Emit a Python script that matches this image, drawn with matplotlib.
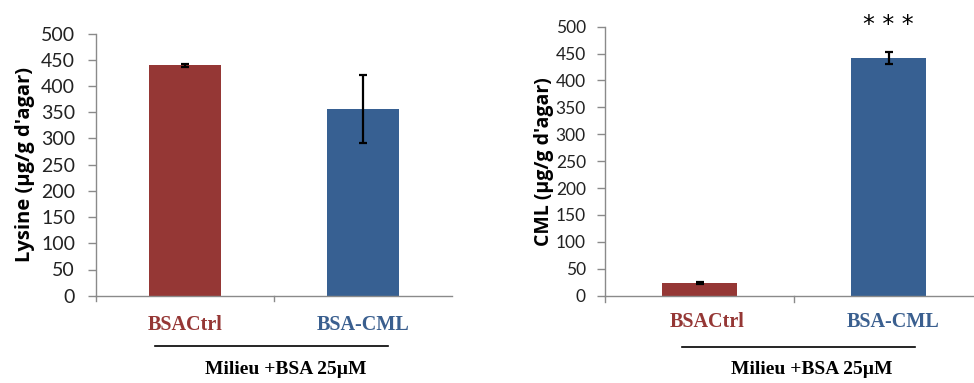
import matplotlib
matplotlib.use("Agg")
import matplotlib.pyplot as plt
from matplotlib.lines import Line2D

categories = ["BSACtrl", "BSA-CML"]
lysine_values = [440, 357]
lysine_err = [3, 65]
cml_values = [24, 442]
cml_err = [2, 11]
yticks = [0, 50, 100, 150, 200, 250, 300, 350, 400, 450, 500]
group_label = "Milieu +BSA 25µM"
bar_colors = ["#953735", "#376092"]
label_colors = ["#953735", "#3a5f8f"]

W, H = 974, 383
fig = plt.figure(figsize=(W / 100, H / 100), dpi=100)

def px(x0, x1, ytop, ybot):
    return [x0 / W, 1 - ybot / H, (x1 - x0) / W, (ybot - ytop) / H]

def draw(ax, values, errs, ylabel, tick_size, label_size, pad):
    x = list(range(len(categories)))
    ax.bar(x, values, width=0.4, color=bar_colors, zorder=2)
    ax.errorbar(x, values, yerr=errs, fmt="none", ecolor="black",
                elinewidth=1.6, capsize=3, capthick=1.6, zorder=3)
    ax.set_xlim(-0.5, len(categories) - 0.5)
    ax.set_ylim(0, 500)
    ax.set_yticks(yticks)
    ax.set_yticklabels([str(t) for t in yticks], fontfamily="Lato",
                       fontsize=tick_size, color="#222222")
    ax.set_xticks([])
    for s in ["top", "right"]:
        ax.spines[s].set_visible(False)
    for s in ["left", "bottom"]:
        ax.spines[s].set_color("#8a8a8a")
        ax.spines[s].set_linewidth(1.0)
    ax.tick_params(axis="y", direction="out", length=6, width=1.0,
                   color="#8a8a8a", pad=pad)
    for b in [-0.5, 0.5]:
        ax.plot([b, b], [0, -0.022], transform=ax.get_xaxis_transform(),
                color="#8a8a8a", lw=1.0, clip_on=False)
    ax.set_ylabel(ylabel, fontfamily="Open Sans", fontweight="bold",
                  fontsize=label_size, color="black")

# Left chart
ax1 = fig.add_axes(px(96, 452, 33.7, 295.7))
draw(ax1, lysine_values, lysine_err, "Lysine (µg/g d'agar)", 14, 14.5, 9)
ax1.yaxis.set_label_coords(-0.2 + 10 / 356, 0.5)

# Right chart
ax2 = fig.add_axes(px(605.3, 983, 26.7, 295.7))
draw(ax2, cml_values, cml_err, "CML (µg/g d'agar)", 12.5, 14, 8)
ax2.yaxis.set_label_coords(-0.165 + 11 / 378, 0.5)
ax2.text(1, 480, "* * *", ha="center", va="bottom", fontsize=17,
         fontfamily="DejaVu Sans", color="black", clip_on=False)

def ftext(x, y, s, color, size):
    fig.text(x / W, 1 - y / H, s, ha="center", va="center", color=color,
             fontfamily="Liberation Serif", fontweight="bold", fontsize=size)

def fline(x0, x1, y):
    fig.add_artist(Line2D([x0 / W, x1 / W], [1 - y / H, 1 - y / H],
                          color="black", lw=1.2))

# left
ftext(185, 325, categories[0], label_colors[0], 14.5)
ftext(363, 325, categories[1], label_colors[1], 14.5)
fline(155, 388, 346)
ftext(286, 370, group_label, "black", 14)
# right
ftext(707, 322, categories[0], label_colors[0], 14.5)
ftext(893, 322, categories[1], label_colors[1], 14.5)
fline(681.7, 915, 346.7)
ftext(811.7, 370, group_label, "black", 14)

fig.savefig("out.png", dpi=100)
